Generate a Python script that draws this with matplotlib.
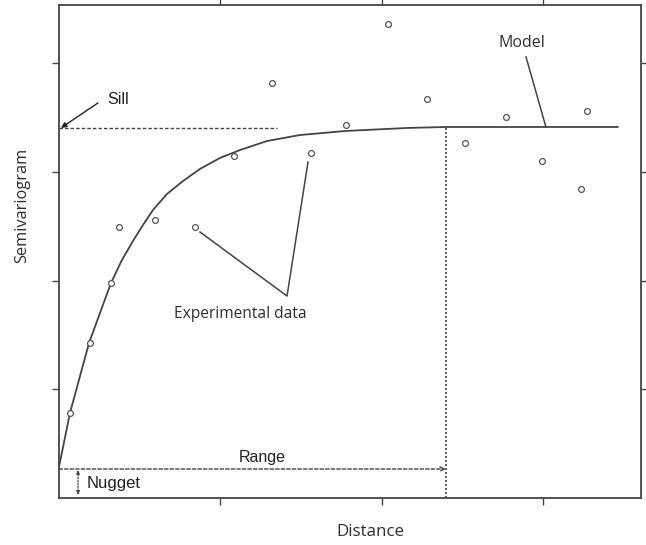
import matplotlib.pyplot as plt

# experimental semivariogram points (distance, semivariance)
exp_x = [0.068, 0.192, 0.322, 0.372, 0.594, 0.842, 1.084, 1.319, 1.560,
         1.777, 2.037, 2.279, 2.514, 2.768, 2.991, 3.232, 3.269]
exp_y = [0.782, 1.426, 1.978, 2.493, 2.558, 2.493, 3.146, 3.818, 3.174,
         3.431, 4.361, 3.671, 3.266, 3.505, 3.100, 2.843, 3.560]

model_x = [0.0, 0.068, 0.186, 0.322, 0.390, 0.458, 0.520, 0.582, 0.669, 0.768,
           0.873, 0.997, 1.121, 1.288, 1.492, 1.771, 2.155, 2.396, 3.461]
model_y = [0.285, 0.782, 1.426, 1.978, 2.190, 2.364, 2.511, 2.650, 2.797, 2.916,
           3.027, 3.128, 3.201, 3.284, 3.339, 3.376, 3.404, 3.413, 3.413]

nugget = 0.267
sill = 3.404
range_ = 2.396

x_ticks = [1, 2, 3]
y_ticks = [1, 2, 3, 4]

ink = '#444444'
txt = '#2e2e2e'

fig = plt.figure(figsize=(6.46, 5.45), dpi=100)
ax = fig.add_axes([0.0913, 0.0862, 0.9010, 0.9046])

ax.plot(model_x, model_y, color=ink, lw=1.3, zorder=3,
        solid_joinstyle='round', solid_capstyle='round')
ax.plot(exp_x, exp_y, 'o', mfc='white', mec='#555555', ms=4.2, mew=0.9, zorder=4)

# sill
ax.plot([0, 1.35], [sill, sill], color=ink, lw=1.0, ls=(0, (2.5, 1.5)))
ax.annotate('', xy=(0.012, sill), xytext=(0.241, 3.634),
            arrowprops=dict(arrowstyle='-|>', color='#222222', lw=1.0,
                            mutation_scale=8, shrinkA=0, shrinkB=0))
ax.text(0.367, 3.67, 'Sill', family='Liberation Sans', fontsize=11.5,
        color='#222222', ha='center', va='center')

# range
ax.annotate('', xy=(range_, nugget), xytext=(0, nugget),
            arrowprops=dict(arrowstyle='->', color=ink, lw=1.0, ls=(0, (2.5, 1.5)),
                            mutation_scale=8, shrinkA=0, shrinkB=0))
ax.plot([range_, range_], [0, model_y[-1]], color=ink, lw=1.2, ls=(0, (1.2, 1.2)))
ax.text(1.257, 0.37, 'Range', family='Liberation Sans', fontsize=11.5,
        color='#222222', ha='center', va='center')

# nugget
ax.annotate('', xy=(0.118, 0.03), xytext=(0.118, nugget - 0.01),
            arrowprops=dict(arrowstyle='<|-|>', color=ink, lw=0.9, ls=(0, (1.2, 1.2)),
                            mutation_scale=5, shrinkA=0, shrinkB=0))
ax.text(0.173, 0.13, 'Nugget', family='Liberation Sans', fontsize=12,
        color='#222222', ha='left', va='center')

# model label
ax.plot([2.892, 3.015], [4.057, model_y[-1]], color=ink, lw=1.1)
ax.text(2.867, 4.19, 'Model', family='Open Sans', fontsize=11.5,
        color=txt, ha='center', va='center')

# experimental data label
vx, vy = 1.412, 1.858
ax.plot([0.873, vx, 1.542], [2.447, vy, 3.091], color=ink, lw=1.1)
ax.text(1.121, 1.69, 'Experimental data', family='Open Sans', fontsize=11.2,
        color=txt, ha='center', va='center')

ax.set_xlim(0, 3.604)
ax.set_ylim(0, 4.535)
ax.set_xticks(x_ticks)
ax.set_yticks(y_ticks)
ax.tick_params(direction='out', length=5, width=1.0, color=ink,
               top=True, right=True, labelbottom=False, labelleft=False)
for s in ax.spines.values():
    s.set_color(ink)
    s.set_linewidth(1.3)

fig.text(0.034, 0.624, 'Semivariogram', family='Open Sans', fontsize=11.8,
         color=txt, rotation=90, ha='center', va='center')
fig.text(0.574, 0.024, 'Distance', family='Open Sans', fontsize=12.2,
         color=txt, ha='center', va='center')

fig.savefig('out.png', dpi=100)
